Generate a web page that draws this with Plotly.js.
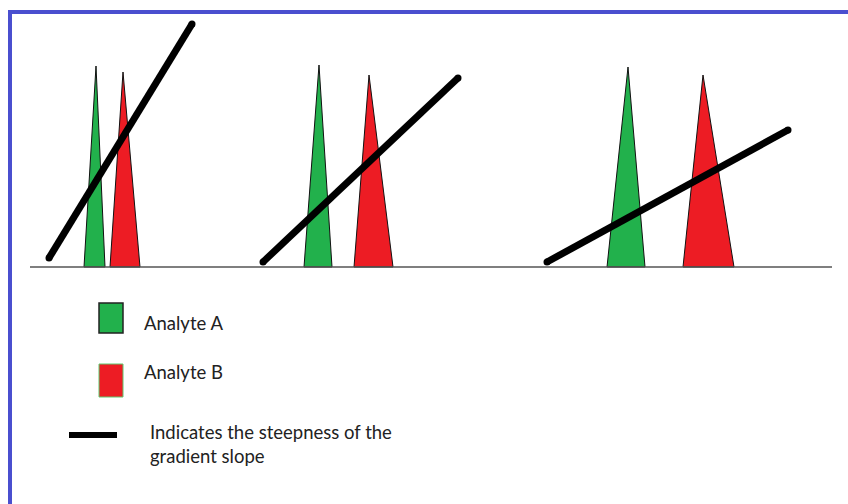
<!DOCTYPE html>
<html>
<head>
<meta charset="utf-8">
<script src="https://cdn.plot.ly/plotly-3.0.1.min.js"></script>
<style>
  html, body { margin: 0; padding: 0; background: #fff; }
  #chart { width: 848px; height: 504px; }
</style>
</head>
<body>
<div id="chart"></div>
<script>
// Three runs, steep -> shallow gradient. x = position along the run,
// h = height above the baseline (same units as the picture).
const runs = ['steep', 'medium', 'shallow'];

// Analyte A peaks (green)
const peakAStart = [84, 304, 607];
const peakAApex = [96, 319, 628];
const peakAEnd = [105, 332, 645];
const peakAHeight = [201, 202, 200];

// Analyte B peaks (red)
const peakBStart = [110, 354, 683];
const peakBApex = [123, 369, 703];
const peakBEnd = [140, 393, 734];
const peakBHeight = [195, 192, 192];

// gradient slope lines
const gradX0 = [49, 263, 547];
const gradH0 = [9, 5, 5];
const gradX1 = [192, 458, 788];
const gradH1 = [243, 189, 137];

const baselineX = [30, 832];
const baselineH = [0, 0];

const legendLabels = ['Analyte A', 'Analyte B', 'Indicates the steepness of the<br>gradient slope'];

const GREEN = '#22b14c';
const RED = '#ed1c24';
const BLUE = '#4a4fcf';

function peakTrace(start, apex, end, height, fill, i) {
  return {
    type: 'scatter',
    mode: 'lines',
    x: [start[i], apex[i], end[i], start[i]],
    y: [0, height[i], 0, 0],
    fill: 'toself',
    fillcolor: fill,
    line: { color: '#111', width: 1 },
    hoverinfo: 'skip',
    showlegend: false,
  };
}

const traces = [];
runs.forEach((run, i) => {
  traces.push(peakTrace(peakAStart, peakAApex, peakAEnd, peakAHeight, GREEN, i));
  traces.push(peakTrace(peakBStart, peakBApex, peakBEnd, peakBHeight, RED, i));
});

traces.push({
  type: 'scatter',
  mode: 'lines',
  x: baselineX,
  y: baselineH,
  line: { color: '#555', width: 1.5 },
  hoverinfo: 'skip',
  showlegend: false,
});

runs.forEach((run, i) => {
  traces.push({
    type: 'scatter',
    mode: 'lines+markers',
    x: [gradX0[i], gradX1[i]],
    y: [gradH0[i], gradH1[i]],
    line: { color: '#000', width: 7 },
    marker: { color: '#000', size: 7 },
    hoverinfo: 'skip',
    showlegend: false,
  });
});

// hand-drawn legend below the baseline (h is negative there)
const shapes = [
  { type: 'rect', xref: 'x', yref: 'y', x0: 10, x1: 880, y0: 255, y1: -260,
    line: { color: BLUE, width: 4 }, layer: 'below' },
  { type: 'rect', xref: 'x', yref: 'y', x0: 99, x1: 123, y0: -36, y1: -66,
    fillcolor: GREEN, line: { color: '#222', width: 1.5 } },
  { type: 'rect', xref: 'x', yref: 'y', x0: 99, x1: 123, y0: -97, y1: -130,
    fillcolor: RED, line: { color: '#5fc86e', width: 1 } },
  { type: 'line', xref: 'x', yref: 'y', x0: 69, x1: 117, y0: -168, y1: -168,
    line: { color: '#000', width: 6 } },
];

const annotations = [
  { x: 142, y: -56, text: legendLabels[0] },
  { x: 142, y: -105, text: legendLabels[1] },
  { x: 148, y: -177, text: legendLabels[2] },
].map((a) => ({
  xref: 'x', yref: 'y', x: a.x, y: a.y, text: a.text,
  showarrow: false, xanchor: 'left', yanchor: 'middle', align: 'left',
  font: { family: 'Lato, sans-serif', size: 18.5, color: '#222' },
}));

const layout = {
  width: 848,
  height: 504,
  margin: { l: 0, r: 0, t: 0, b: 0 },
  paper_bgcolor: '#fff',
  plot_bgcolor: '#fff',
  xaxis: { range: [0, 848], visible: false, fixedrange: true },
  yaxis: { range: [-237, 267], visible: false, fixedrange: true },
  shapes,
  annotations,
  showlegend: false,
};

Plotly.newPlot('chart', traces, layout, { displayModeBar: false, staticPlot: true });
</script>
</body>
</html>
